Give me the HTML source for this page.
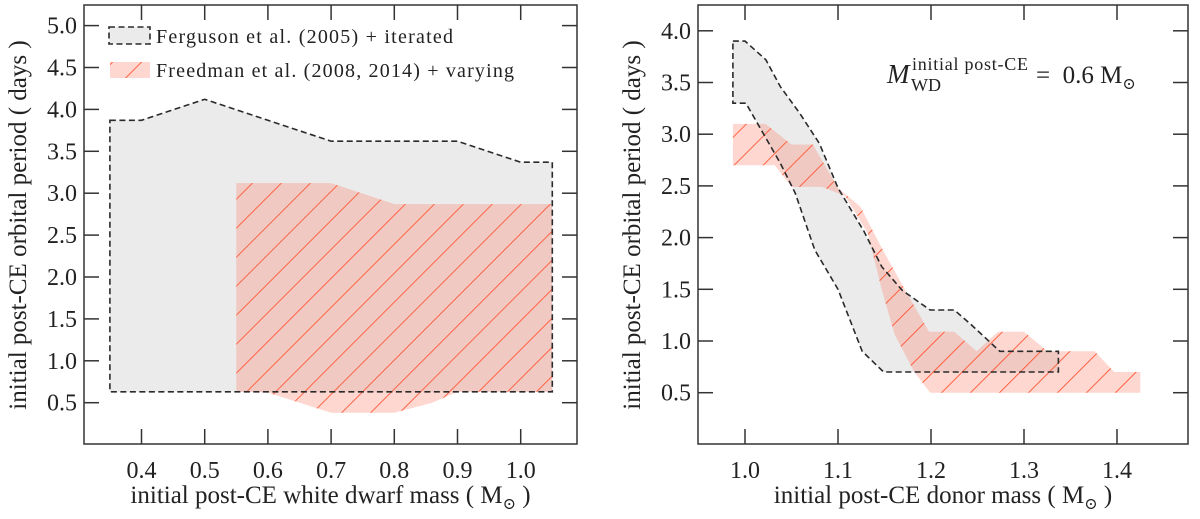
<!DOCTYPE html>
<html><head><meta charset="utf-8"><style>
body{margin:0;background:#fff;}
svg, svg text{font-family:"Liberation Serif","DejaVu Serif",serif;}
</style></head><body>
<svg id="c" width="1200" height="514" viewBox="0 0 1200 514" xmlns="http://www.w3.org/2000/svg" font-family="Liberation Serif, DejaVu Serif, serif">
<defs>
<pattern id="hatch" patternUnits="userSpaceOnUse" width="20.5" height="20.5" patternTransform="rotate(45)">
<line x1="0" y1="0" x2="0" y2="20.5" stroke="#ff5733" stroke-width="1.8"/>
</pattern>
</defs>
</svg>
<script>
// ---- left panel data ----
const leftXTicks=[0.4,0.5,0.6,0.7,0.8,0.9,1.0];
const leftYTicks=[0.5,1.0,1.5,2.0,2.5,3.0,3.5,4.0,4.5,5.0];
const fergX=[0.35,0.4,0.5,0.6,0.7,0.9,1.0,1.05,1.05,0.35];
const fergY=[3.87,3.87,4.12,3.87,3.62,3.62,3.37,3.37,0.63,0.63];
const freedX=[0.55,0.7,0.8,1.05,1.05,0.9,0.86,0.8,0.7,0.6,0.55];
const freedY=[3.12,3.12,2.87,2.87,0.63,0.63,0.5,0.38,0.38,0.62,0.63];
// ---- right panel data ----
const rightXTicks=[1.0,1.1,1.2,1.3,1.4];
const rightYTicks=[0.5,1.0,1.5,2.0,2.5,3.0,3.5,4.0];
const dFergX=[0.987,1.0,1.0225,1.038,1.059,1.08,1.1,1.128,1.147,1.169,1.199,1.225,1.243,1.274,1.337,1.337,1.149,1.126,1.1,1.075,1.054,1.038,1.001,0.987];
const dFergY=[3.9,3.9,3.72,3.46,3.2,2.91,2.48,2.06,1.72,1.49,1.3,1.3,1.16,0.9,0.9,0.7,0.7,0.9,1.5,1.88,2.43,2.72,3.3,3.3];
const dFreedX=[0.987,1.022,1.05,1.073,1.1,1.124,1.147,1.173,1.198,1.225,1.249,1.272,1.3,1.325,1.376,1.397,1.425,1.425,1.199,1.182,1.161,1.147,1.132,1.108,1.083,1.05,1.032,0.987];
const dFreedY=[3.1,3.1,2.9,2.9,2.48,2.3,1.9,1.48,1.09,1.09,0.9,1.09,1.09,0.9,0.9,0.7,0.7,0.5,0.5,0.7,1.06,1.5,2.04,2.4,2.49,2.49,2.7,2.7];

const svg=document.getElementById('c');
const NS='http://www.w3.org/2000/svg';
function mk(tag,attrs,parent){const e=document.createElementNS(NS,tag);for(const k in attrs)e.setAttribute(k,attrs[k]);(parent||svg).appendChild(e);return e;}

function panel(cfg){
  const g=mk('g',{});
  
  
  const X=v=>cfg.x0px+(v-cfg.x0v)*cfg.xs;
  const Y=v=>cfg.y0px-(v-cfg.y0v)*cfg.ys;
  const pts=(xs,ys)=>xs.map((x,i)=>X(x).toFixed(1)+','+Y(ys[i]).toFixed(1)).join(' ');
  const gray=mk('polygon',{points:pts(cfg.gx,cfg.gy),fill:'#ebebeb'},g);
  
  
  const red=mk('polygon',{points:pts(cfg.rx,cfg.ry),fill:'#ff7a66','fill-opacity':'0.3'},g);
  
  
  const rh=mk('polygon',{points:pts(cfg.rx,cfg.ry),fill:'url(#hatch)'},g);
  
  
  const out=mk('polygon',{points:pts(cfg.gx,cfg.gy),fill:'none',stroke:'#2a2a2a','stroke-width':'1.6','stroke-dasharray':'6,3.5'},g);
  
  
  const fr=mk('rect',{x:cfg.L,y:cfg.T,width:cfg.R-cfg.L,height:cfg.B-cfg.T,fill:'none',stroke:'#333','stroke-width':'1.5'},g);
  
  
  cfg.xt.forEach(v=>{
    const x=X(v);
    mk('line',{x1:x,y1:cfg.B,x2:x,y2:cfg.B-15,stroke:'#333','stroke-width':'1.5'},g);
    mk('line',{x1:x,y1:cfg.T,x2:x,y2:cfg.T+15,stroke:'#333','stroke-width':'1.5'},g);
    const t=mk('text',{x:x,y:cfg.B+34,'font-size':'24','text-anchor':'middle',fill:'#222'},g);
    t.textContent=v.toFixed(1);
    
    
  });
  cfg.yt.forEach(v=>{
    const y=Y(v);
    mk('line',{x1:cfg.L,y1:y,x2:cfg.L+15,y2:y,stroke:'#333','stroke-width':'1.5'},g);
    mk('line',{x1:cfg.R,y1:y,x2:cfg.R-15,y2:y,stroke:'#333','stroke-width':'1.5'},g);
    const t=mk('text',{x:cfg.L-7,y:y+8,'font-size':'24','text-anchor':'end',fill:'#222'},g);
    t.textContent=v.toFixed(1);
    
    
  });
  const xl=mk('text',{x:(cfg.L+cfg.R)/2,y:503,'font-size':'25','text-anchor':'middle',fill:'#222'},g);
  xl.innerHTML=cfg.xlabel+' ( M<tspan font-size="16" dy="6">\u2299</tspan><tspan dy="-6"> )</tspan>';
  
  
  const yl=mk('text',{x:0,y:0,'font-size':'25','text-anchor':'middle',fill:'#222',transform:`translate(${cfg.ylx},${cfg.ylc}) rotate(-90)`},g);
  yl.textContent='initial post-CE orbital period ( days )';
  
  
  return {X,Y,g};
}

panel({name:'left-panel',L:84,R:577,T:5,B:444,x0v:0.4,x0px:141.5,xs:632,y0v:0.5,y0px:402.7,ys:83.8,
  gx:fergX,gy:fergY,rx:freedX,ry:freedY,xt:leftXTicks,yt:leftYTicks,
  xlabel:'initial post-CE white dwarf mass',ylx:26,ylc:225});
panel({name:'right-panel',L:698,R:1188,T:5,B:444,x0v:1.0,x0px:745,xs:930,y0v:0.5,y0px:392.7,ys:103.4,
  gx:dFergX,gy:dFergY,rx:dFreedX,ry:dFreedY,xt:rightXTicks,yt:rightYTicks,
  xlabel:'initial post-CE donor mass',ylx:640,ylc:225});

// legend
const lg=mk('g',{});


mk('rect',{x:109,y:27,width:41,height:17,fill:'#ebebeb',stroke:'#2a2a2a','stroke-width':'1.6','stroke-dasharray':'6,3.5'},lg);
mk('rect',{x:110,y:62,width:40,height:16,fill:'#ff7a66','fill-opacity':'0.3'},lg);
mk('rect',{x:110,y:62,width:40,height:16,fill:'url(#hatch)'},lg);
const l1=mk('text',{x:156,y:43,'font-size':'20',fill:'#222',textLength:'297'},lg);
l1.textContent='Ferguson et al. (2005) + iterated';


const l2=mk('text',{x:156,y:77,'font-size':'20',fill:'#222',textLength:'358'},lg);
l2.textContent='Freedman et al. (2008, 2014) + varying';



// annotation
const ag=mk('g',{});


const a1=mk('text',{x:887,y:83,'font-size':'27','font-style':'italic',fill:'#222'},ag);
a1.textContent='M';
const a2=mk('text',{x:911,y:91,'font-size':'18',fill:'#222'},ag);
a2.textContent='WD';
const a3=mk('text',{x:912,y:70,'font-size':'18',fill:'#222',textLength:'116'},ag);
a3.textContent='initial post-CE';
const a4=mk('text',{x:1036,y:83,'font-size':'25',fill:'#222'},ag);
a4.innerHTML='=&#160;&#160;0.6 M<tspan font-size="16" dy="6">\u2299</tspan>';
</script>
</body></html>
